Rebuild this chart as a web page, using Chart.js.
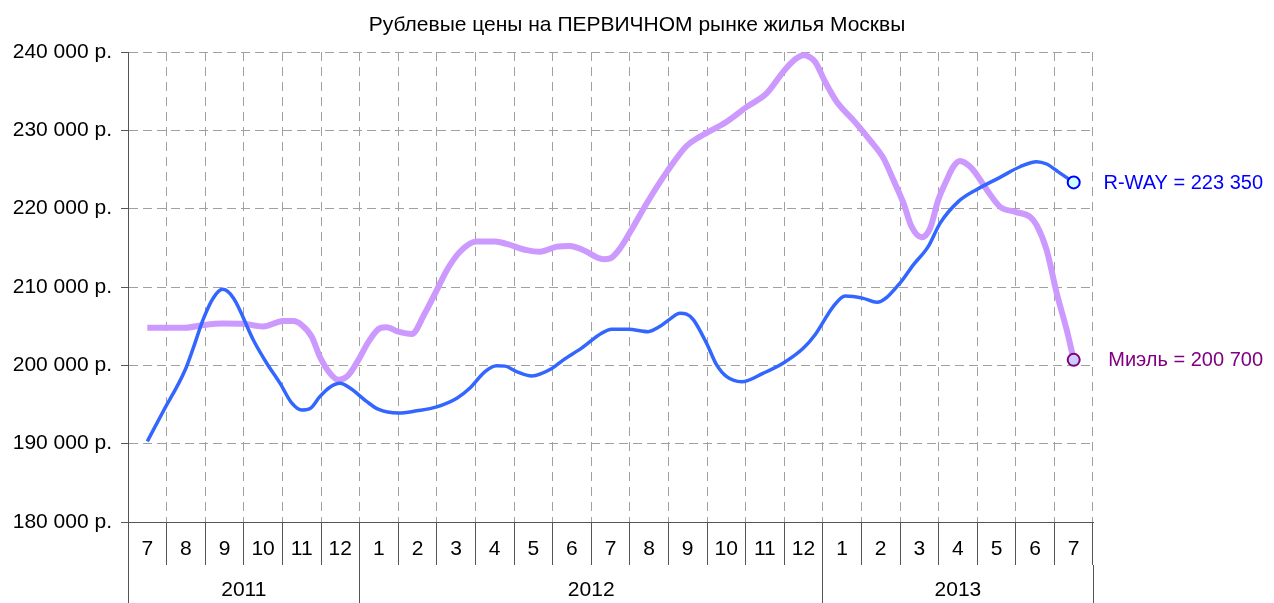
<!DOCTYPE html>
<html>
<head>
<meta charset="utf-8">
<script src="https://cdn.jsdelivr.net/npm/chart.js@4"></script>
<style>
  body { margin: 0; background: #fff; }
  canvas { display: block; }
</style>
</head>
<body>
<canvas id="chart" width="1274" height="603"></canvas>
<script>
// month index 0 = July 2011, 24 = July 2013
const months = ['7','8','9','10','11','12','1','2','3','4','5','6','7','8','9','10','11','12','1','2','3','4','5','6','7'];
const yearNames = ['2011', '2012', '2013'];
const yearCenters = [2.5, 11.5, 21];
const yearEdges = [-0.5, 5.5, 17.5, 24.5];

const seriesNames = ['R-WAY', 'Миэль'];

const rwayMonth = [0,0.41,0.98,1.19,1.45,1.71,1.95,2.23,2.75,3.09,3.44,3.74,4.0,4.22,4.47,4.73,4.99,5.25,5.68,5.98,
  6.5,6.98,7.5,8.02,8.36,8.75,9.05,9.27,9.57,9.96,10.48,10.78,11.25,11.77,12.03,12.46,12.98,13.24,13.54,13.8,
  13.97,14.15,14.49,14.75,15.01,15.4,15.96,16.48,17.0,17.3,17.77,18.08,18.55,18.9,19.5,19.84,20.23,20.54,21.01,21.49,
  22.09,22.61,23.04,23.3,23.6,24];
const rwayPrice = [190300,194100,199400,202200,205900,208600,209700,208600,203200,200300,197700,195200,194300,194500,196000,197200,197700,197100,195400,194400,
  193900,194200,194700,195800,197100,199200,199950,199900,199200,198650,199600,200700,202200,204100,204600,204600,204300,204850,205900,206650,
  206550,205800,202800,200050,198550,197900,199000,200300,202200,203900,207500,208850,208550,208050,210500,212800,215150,218150,220900,222450,
  224000,225350,226000,225700,224700,223350];

const mielMonth = [0,0.98,1.45,1.97,2.49,3.0,3.52,3.78,4.0,4.26,4.47,4.73,4.95,5.21,5.47,5.73,6.03,6.2,6.5,6.85,
  7.19,7.5,7.76,8.1,8.53,9.01,9.31,9.83,10.17,10.61,10.95,11.3,11.81,11.99,12.25,12.59,12.94,13.46,13.97,14.32,
  15.01,15.53,16.05,16.48,16.78,17.0,17.3,17.56,17.86,18.29,18.72,19.07,19.33,19.59,19.8,20.06,20.28,20.49,20.71,20.88,
  21.05,21.36,21.75,22.09,22.48,22.87,23.04,23.3,23.56,23.82,24];
const mielPrice = [204800,204800,205150,205350,205300,204950,205650,205650,205150,203650,201100,199000,198150,198750,200700,203000,204750,204850,204300,204000,
  206650,209600,212150,214500,215800,215800,215500,214700,214500,215150,215250,214700,213550,213650,214950,217700,220700,224700,228000,229200,
  231100,233000,234750,237500,239050,239600,238750,236200,233650,231300,228750,226450,223650,220700,217700,216350,217500,221100,223650,225350,
  226100,225150,222400,220250,219600,218950,217900,214700,209200,204500,200700];

const FONT = "'Liberation Sans', Arial, sans-serif";
const GRID = '#a0a0a0';
const AXIS = '#555555';

function fmt(v) {
  return String(v).replace(/\B(?=(\d{3})+(?!\d))/g, ' ');
}

function points(xs, ys) {
  return xs.map((x, i) => ({x: x, y: ys[i]}));
}

function lastOnly(size) {
  return ctx => ctx.dataIndex === ctx.dataset.data.length - 1 ? size : 0;
}

// value labels to the right of the last points
const endLabels = {
  id: 'endLabels',
  afterDatasetsDraw(chart) {
    const ctx = chart.ctx;
    ctx.save();
    ctx.font = '20px ' + FONT;
    ctx.textAlign = 'right';
    ctx.textBaseline = 'middle';
    chart.data.datasets.forEach((ds, i) => {
      const meta = chart.getDatasetMeta(i);
      const pt = meta.data[meta.data.length - 1];
      const last = ds.data[ds.data.length - 1].y;
      ctx.fillStyle = ds.labelColor;
      ctx.fillText(ds.label + ' = ' + fmt(last), chart.chartArea.right + 170, pt.y + 1);
    });
    ctx.restore();
  }
};

new Chart(document.getElementById('chart'), {
  type: 'line',
  data: {
    datasets: [{
      label: seriesNames[0],
      data: points(rwayMonth, rwayPrice),
      borderColor: '#3366ff',
      borderWidth: 3.5,
      cubicInterpolationMode: 'monotone',
      pointRadius: lastOnly(6),
      pointBorderWidth: 2,
      pointBorderColor: '#0000ff',
      pointBackgroundColor: '#ccffff',
      labelColor: '#0000ff'
    }, {
      label: seriesNames[1],
      data: points(mielMonth, mielPrice),
      borderColor: '#cc99ff',
      borderWidth: 6,
      cubicInterpolationMode: 'monotone',
      pointRadius: lastOnly(6),
      pointBorderWidth: 2,
      pointBorderColor: '#800080',
      pointBackgroundColor: '#ccccff',
      labelColor: '#800080'
    }]
  },
  options: {
    responsive: false,
    devicePixelRatio: 1,
    animation: false,
    events: [],
    layout: {padding: 0},
    plugins: {
      legend: {display: false},
      tooltip: {enabled: false},
      title: {
        display: true,
        text: 'Рублевые цены на ПЕРВИЧНОМ рынке жилья Москвы',
        color: '#000',
        font: {family: FONT, size: 21, weight: 'normal'},
        padding: {top: 12.4, bottom: 14.4}
      }
    },
    scales: {
      x: {
        type: 'linear',
        display: false,
        min: -0.5,
        max: 24.5
      },
      xMonth: {
        type: 'category',
        position: 'bottom',
        labels: months,
        offset: true,
        weight: 0,
        grid: {
          offset: true,
          color: ctx => ctx.index === 0 ? 'rgba(0,0,0,0)' : GRID,
          lineWidth: 1,
          tickLength: 43,
          tickColor: AXIS,
          tickWidth: 1,
          tickBorderDash: []
        },
        border: {display: true, color: AXIS, width: 1, dash: [9, 6]},
        ticks: {
          color: '#000',
          font: {family: FONT, size: 21},
          padding: -28.6,
          autoSkip: false,
          maxRotation: 0
        },
        afterFit: s => { s.height = 43; }
      },
      xYear: {
        type: 'linear',
        position: 'bottom',
        min: -0.5,
        max: 24.5,
        weight: 1,
        afterBuildTicks: s => {
          s.ticks = yearEdges.concat(yearCenters).sort((a, b) => a - b).map(v => ({value: v}));
        },
        grid: {
          drawOnChartArea: false,
          tickLength: 38,
          tickWidth: 1,
          tickColor: ctx => (ctx.tick && yearEdges.includes(ctx.tick.value)) ? AXIS : 'rgba(0,0,0,0)',
          tickBorderDash: []
        },
        border: {display: false},
        ticks: {
          color: '#000',
          font: {family: FONT, size: 21},
          padding: -25.6,
          autoSkip: false,
          maxRotation: 0,
          callback: v => {
            const k = yearCenters.indexOf(v);
            return k >= 0 ? yearNames[k] : '';
          }
        },
        afterFit: s => { s.height = 38; }
      },
      y: {
        type: 'linear',
        min: 180000,
        max: 240000,
        grid: {
          color: ctx => ctx.index === 0 ? 'rgba(0,0,0,0)' : GRID,
          lineWidth: 1,
          tickLength: 7,
          tickColor: AXIS,
          tickWidth: 1,
          tickBorderDash: []
        },
        border: {display: true, color: AXIS, width: 1, dash: [9, 5]},
        ticks: {
          stepSize: 10000,
          color: '#000',
          font: {family: FONT, size: 21},
          padding: 9,
          callback: v => fmt(v) + ' р.'
        },
        afterFit: s => { s.width = 128; }
      },
      // empty strip on the right that holds the value labels
      yRight: {
        type: 'linear',
        position: 'right',
        grid: {display: false},
        border: {display: false},
        ticks: {display: false},
        afterFit: s => { s.width = 181; }
      }
    }
  },
  plugins: [endLabels]
});
</script>
</body>
</html>
